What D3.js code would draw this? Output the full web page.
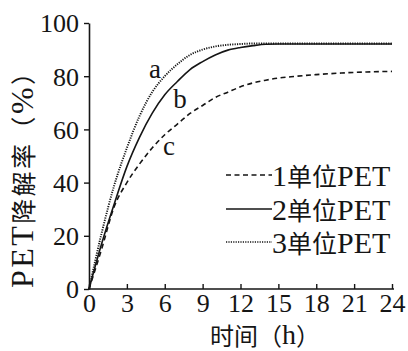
<!DOCTYPE html>
<html>
<head>
<meta charset="utf-8">
<script src="https://cdn.jsdelivr.net/npm/d3@7"></script>
<style>
  html, body { margin: 0; padding: 0; background: #fff; }
  svg { display: block; }
  text { font-family: "Liberation Serif", "Noto Sans CJK SC", serif; fill: #151515; }
  .cjk { font-family: "Noto Sans CJK SC", sans-serif; }
</style>
</head>
<body>
<svg id="chart" width="408" height="351"></svg>
<script>
// Degradation time course (hours)
const hours = [0, 1, 2, 3, 4, 5, 6, 7, 8, 9, 10, 11, 12, 13, 14, 15, 16, 18, 20, 22, 24];
// PET degradation rate (%) for each enzyme dose
const pet1 = [0, 15, 31, 40, 47, 53, 58, 62, 66, 69, 72, 74, 76, 77.5, 78.5, 79.3, 79.8, 80.6, 81.2, 81.6, 81.8];
const pet2 = [0, 17, 32, 46, 57, 66, 73, 78, 82.5, 85.5, 88, 89.8, 90.8, 91.5, 92, 92.1, 92.1, 92.1, 92.1, 92.1, 92.1];
const pet3 = [0, 21, 39, 53, 65, 74, 80, 84.5, 88, 90, 91.2, 91.8, 92.1, 92.3, 92.3, 92.3, 92.3, 92.3, 92.3, 92.3, 92.3];
const xTicks = [0, 3, 6, 9, 12, 15, 18, 21, 24];
const yTicks = [0, 20, 40, 60, 80, 100];
const seriesNames = ["1单位PET", "2单位PET", "3单位PET"];
const curveLabels = ["c", "b", "a"];

const svg = d3.select("#chart");
const x = d3.scaleLinear().domain([0, 24]).range([89, 392]);
const y = d3.scaleLinear().domain([0, 100]).range([289, 23]);

const dashes = ["5,3.5", null, "1.2,1.2"];
const series = [pet1, pet2, pet3];

// split a label into Latin / CJK runs so each gets its own font and size
function mixedText(sel, str, latinSize, cjkSize) {
  const runs = str.match(/[\u3000-\u9fff\uff00-\uffef]+|[^\u3000-\u9fff\uff00-\uffef]+/g);
  runs.forEach(r => {
    const isCjk = /[\u3000-\u9fff\uff00-\uffef]/.test(r);
    sel.append("tspan")
      .attr("class", isCjk ? "cjk" : null)
      .style("font-size", (isCjk ? cjkSize : latinSize) + "px")
      .text(r);
  });
  return sel;
}

// axes
const xAxis = svg.append("g").attr("transform", `translate(0,${y(0)})`)
  .call(d3.axisBottom(x).tickValues(xTicks).tickSize(-5).tickPadding(8).tickSizeOuter(0));
const yAxis = svg.append("g").attr("transform", `translate(${x(0)},0)`)
  .call(d3.axisLeft(y).tickValues(yTicks).tickSize(5).tickPadding(4).tickSizeOuter(0));
[xAxis, yAxis].forEach(g => {
  g.attr("font-family", null).attr("font-size", null);
  g.select(".domain").attr("stroke", "#151515").attr("stroke-width", 1.6);
  g.selectAll(".tick line").attr("stroke", "#151515").attr("stroke-width", 1.4);
  g.selectAll(".tick text").style("font-size", "26px").style("font-family", "Liberation Serif").style("fill", "#151515");
});
xAxis.select(".domain").attr("d", `M${x(0)},0H${x(24) + 2}`);
xAxis.selectAll(".tick text").attr("dy", "0.71em").attr("y", 5);
yAxis.selectAll(".tick text").attr("dy", "0.34em").attr("x", -10);

// curves
const line = d3.line()
  .x((d, i) => x(hours[i]))
  .y(d => y(d))
  .curve(d3.curveMonotoneX);

series.forEach((vals, k) => {
  svg.append("path")
    .datum(vals)
    .attr("d", line)
    .attr("fill", "none")
    .attr("stroke", "#151515")
    .attr("stroke-width", k === 2 ? 1.9 : 1.6)
    .attr("stroke-dasharray", dashes[k]);
});

// curve letters
const labelPos = [[169, 146], [180, 99], [155, 69]];
curveLabels.forEach((t, k) => {
  svg.append("text").attr("x", labelPos[k][0]).attr("y", labelPos[k][1])
    .attr("text-anchor", "middle").attr("dominant-baseline", "central")
    .style("font-size", "27px").text(t);
});

// legend
const legendY = [175, 209, 242];
seriesNames.forEach((name, k) => {
  svg.append("line")
    .attr("x1", 226).attr("x2", 272)
    .attr("y1", legendY[k]).attr("y2", legendY[k])
    .attr("stroke", "#151515").attr("stroke-width", 1.6)
    .attr("stroke-dasharray", dashes[k]);
  const t = svg.append("text").attr("x", 272).attr("y", legendY[k])
    .attr("dominant-baseline", "central");
  mixedText(t, name, 30, 25);
});

// axis titles
const xt = svg.append("text").attr("x", 265).attr("y", 334)
  .attr("text-anchor", "middle").attr("dominant-baseline", "central");
mixedText(xt, "时间（h）", 28, 24);
const yt = svg.append("text")
  .attr("transform", "translate(22,174) rotate(-90)")
  .attr("text-anchor", "middle").attr("dominant-baseline", "central")
  .attr("textLength", 228).attr("lengthAdjust", "spacing");
mixedText(yt, "PET降解率（%）", 32, 25);
</script>
</body>
</html>
